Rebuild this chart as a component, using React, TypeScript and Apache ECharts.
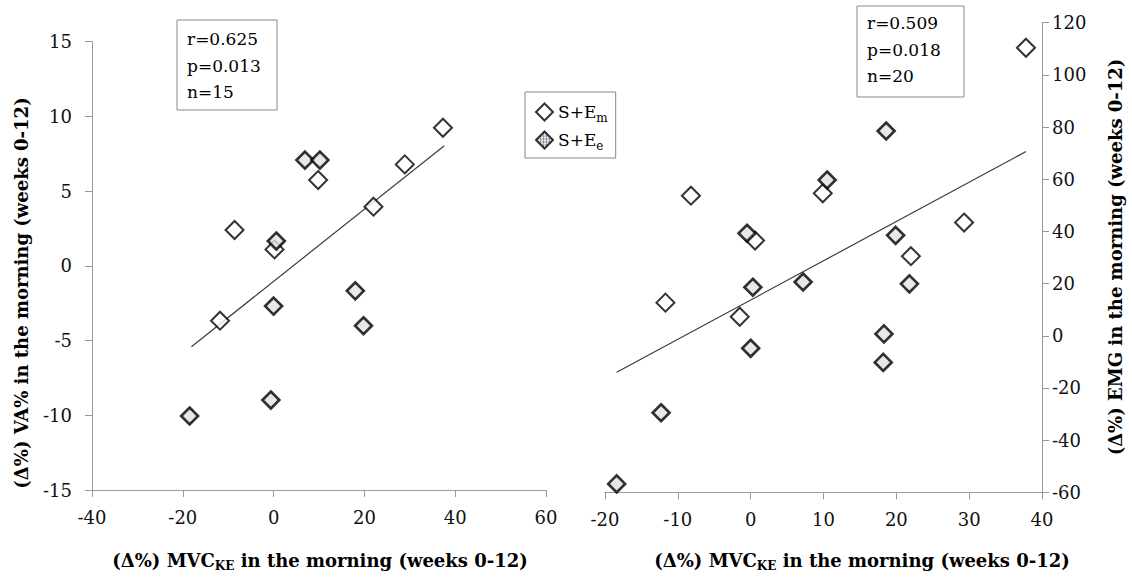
import React, { useEffect, useRef } from "react";
import * as echarts from "echarts";

// ---- Data ----
const leftXTicks = [-40, -20, 0, 20, 40, 60];
const leftYTicks = [-15, -10, -5, 0, 5, 10, 15];
const rightXTicks = [-20, -10, 0, 10, 20, 30, 40];
const rightYTicks = [-60, -40, -20, 0, 20, 40, 60, 80, 100, 120];

// Left panel: MVC_KE (x) vs VA% (y)
const leftOpen: [number, number][] = [
  [37.3, 9.24],
  [28.9, 6.79],
  [22.0, 3.96],
  [9.8, 5.74],
  [-8.6, 2.4],
  [0.2, 1.1],
  [-11.8, -3.67],
];
const leftDotted: [number, number][] = [
  [6.9, 7.08],
  [10.2, 7.08],
  [0.6, 1.66],
  [18.0, -1.67],
  [0.0, -2.69],
  [19.8, -4.01],
  [-0.6, -8.98],
  [-18.5, -10.05],
];
const leftTrend: [number, number][] = [
  [-18.1, -5.41],
  [37.6, 8.04],
];

// Right panel: MVC_KE (x) vs EMG (y)
const rightOpen: [number, number][] = [
  [37.8, 110.4],
  [-8.2, 53.7],
  [9.9, 54.6],
  [0.6, 36.5],
  [29.3, 43.4],
  [22.0, 30.5],
  [-11.7, 12.7],
  [-1.5, 7.3],
];
const rightDotted: [number, number][] = [
  [18.6, 78.5],
  [10.5, 59.7],
  [-0.5, 39.3],
  [19.9, 38.5],
  [0.3, 18.6],
  [7.2, 20.6],
  [21.8, 19.9],
  [18.3, 0.7],
  [18.2, -10.2],
  [0.0, -4.8],
  [-12.3, -29.5],
  [-18.4, -56.8],
];
const rightTrend: [number, number][] = [
  [-18.4, -14.0],
  [37.8, 70.6],
];

const leftStats = ["r=0.625", "p=0.013", "n=15"];
const rightStats = ["r=0.509", "p=0.018", "n=20"];
const seriesNames = ["S+E_m", "S+E_e"];

const FONT = "DejaVu Serif";

function makePattern(): any {
  const c = document.createElement("canvas");
  c.width = 3;
  c.height = 3;
  const ctx = c.getContext("2d");
  if (ctx) {
    ctx.fillStyle = "#e2e2e2";
    ctx.fillRect(0, 0, 3, 3);
    ctx.fillStyle = "#9a9a9a";
    ctx.fillRect(1, 0, 1, 3);
    ctx.fillRect(0, 1, 3, 1);
    ctx.fillStyle = "#555";
    ctx.fillRect(1, 1, 1, 1);
  }
  return { image: c, repeat: "repeat" };
}

const axisLineStyle = { lineStyle: { color: "#999", width: 1 } };
const axisTick = { show: true, length: 7, lineStyle: { color: "#999", width: 1 } };

function makeXAxis(ticks: number[], gridIndex: number) {
  return {
    type: "value" as const,
    gridIndex,
    min: ticks[0],
    max: ticks[ticks.length - 1],
    interval: ticks[1] - ticks[0],
    axisLine: { show: true, onZero: false, ...axisLineStyle },
    axisTick,
    splitLine: { show: false },
    axisLabel: { fontFamily: FONT, fontSize: 18, color: "#111", margin: 18 },
  };
}

function makeYAxis(ticks: number[], gridIndex: number, position: "left" | "right", margin: number) {
  return {
    type: "value" as const,
    gridIndex,
    position,
    min: ticks[0],
    max: ticks[ticks.length - 1],
    interval: ticks[1] - ticks[0],
    axisLine: { show: true, onZero: false, ...axisLineStyle },
    axisTick,
    splitLine: { show: false },
    axisLabel: { fontFamily: FONT, fontSize: 18, color: "#111", margin },
  };
}

const titleRich = {
  s: { fontFamily: FONT, fontSize: 12, fontWeight: "bold" as const, lineHeight: 12, verticalAlign: "bottom" as const, fill: "#000" },
};

function axisTitle(x: number, y: number, text: string, rotate: boolean) {
  return {
    type: "text",
    x,
    y,
    rotation: rotate ? Math.PI / 2 : 0,
    style: {
      text,
      font: `bold 18px "${FONT}"`,
      fill: "#000",
      align: "center",
      verticalAlign: "middle",
      lineHeight: 24,
      rich: titleRich,
    },
  };
}

function statsBox(x: number, y: number, w: number, h: number, tx: number, ty: number, lines: string[]) {
  return {
    type: "group",
    children: [
      {
        type: "rect",
        shape: { x, y, width: w, height: h },
        style: { fill: "#fff", stroke: "#888", lineWidth: 1 },
      },
      {
        type: "text",
        x: tx,
        y: ty,
        style: {
          text: lines.join("\n"),
          font: `17px "${FONT}"`,
          fill: "#000",
          lineHeight: 26.5,
          verticalAlign: "top",
        },
      },
    ],
  };
}

export default function App() {
  const ref = useRef<HTMLDivElement>(null);

  useEffect(() => {
    if (!ref.current) return;
    const chart = echarts.init(ref.current, undefined, { renderer: "svg" });
    const pattern = makePattern();
    const openStyle = { color: "#fff", borderColor: "#000", borderWidth: 2 };
    const dotStyle = { color: pattern, borderColor: "#000", borderWidth: 2.6 };

    const option: any = {
      animation: false,
      backgroundColor: "#fff",
      grid: [
        { left: 92, top: 41.7, width: 454, height: 448.3 },
        { left: 605, top: 22.7, width: 437, height: 469.6 },
      ],
      xAxis: [makeXAxis(leftXTicks, 0), makeXAxis(rightXTicks, 1)],
      yAxis: [makeYAxis(leftYTicks, 0, "left", 20), makeYAxis(rightYTicks, 1, "right", 10)],
      legend: {
        data: seriesNames,
        orient: "vertical",
        left: 525,
        top: 92,
        padding: [8, 8, 6, 10],
        itemWidth: 17,
        itemHeight: 17,
        itemGap: 4,
        borderColor: "#888",
        borderWidth: 1,
        backgroundColor: "#fff",
        selectedMode: false,
        formatter: (name: string) => (name === "S+E_m" ? "S+E{s|m}" : "S+E{s|e}"),
        textStyle: {
          fontFamily: FONT,
          fontSize: 17,
          color: "#000",
          lineHeight: 24,
          rich: {
            s: { fontFamily: FONT, fontSize: 12, lineHeight: 12, verticalAlign: "bottom", color: "#000" },
          },
        },
      },
      series: [
        {
          type: "line",
          xAxisIndex: 0,
          yAxisIndex: 0,
          data: leftTrend,
          symbol: "none",
          silent: true,
          lineStyle: { color: "#3c3c3c", width: 1.2 },
          z: 1,
        },
        {
          type: "line",
          xAxisIndex: 1,
          yAxisIndex: 1,
          data: rightTrend,
          symbol: "none",
          silent: true,
          lineStyle: { color: "#3c3c3c", width: 1.2 },
          z: 1,
        },
        {
          type: "scatter",
          name: seriesNames[0],
          xAxisIndex: 0,
          yAxisIndex: 0,
          data: leftOpen,
          symbol: "diamond",
          symbolSize: 18,
          itemStyle: openStyle,
          z: 2,
        },
        {
          type: "scatter",
          name: seriesNames[1],
          xAxisIndex: 0,
          yAxisIndex: 0,
          data: leftDotted,
          symbol: "diamond",
          symbolSize: 17,
          itemStyle: dotStyle,
          z: 3,
        },
        {
          type: "scatter",
          name: seriesNames[0],
          xAxisIndex: 1,
          yAxisIndex: 1,
          data: rightOpen,
          symbol: "diamond",
          symbolSize: 18,
          itemStyle: openStyle,
          z: 2,
        },
        {
          type: "scatter",
          name: seriesNames[1],
          xAxisIndex: 1,
          yAxisIndex: 1,
          data: rightDotted,
          symbol: "diamond",
          symbolSize: 17,
          itemStyle: dotStyle,
          z: 3,
        },
      ],
      graphic: [
        statsBox(177, 20, 100, 90, 187, 26, leftStats),
        statsBox(857, 6, 107, 91, 867, 10, rightStats),
        axisTitle(320, 560, "(Δ%) MVC{s|KE} in the morning (weeks 0-12)", false),
        axisTitle(862, 560, "(Δ%) MVC{s|KE} in the morning (weeks 0-12)", false),
        axisTitle(21, 293, "(Δ%) VA% in the morning (weeks 0-12)", true),
        axisTitle(1115, 257, "(Δ%) EMG in the morning (weeks 0-12)", true),
      ],
    };
    chart.setOption(option);
    return () => chart.dispose();
  }, []);

  return (
    <div
      ref={ref}
      style={{ position: "fixed", left: 0, top: 0, width: 1132, height: 579, background: "#fff" }}
    />
  );
}
